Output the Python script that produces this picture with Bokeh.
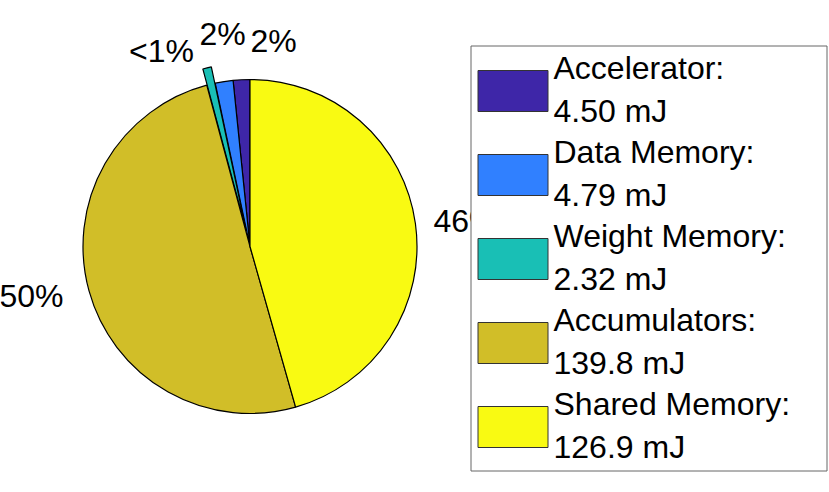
import math
from bokeh.plotting import figure
from bokeh.models import Range1d, ColumnDataSource
from bokeh.core.properties import value
from bokeh.embed import file_html
from bokeh.resources import INLINE

# ---- data ----
categories = ["Accelerator", "Data Memory", "Weight Memory", "Accumulators", "Shared Memory"]
energy_mj = [4.50, 4.79, 2.32, 139.8, 126.9]
energy_text = ["4.50 mJ", "4.79 mJ", "2.32 mJ", "139.8 mJ", "126.9 mJ"]
pct_labels = ["2%", "2%", "<1%", "50%", "46%"]
explode = [0, 0, 1, 0, 0]
colors = ["#3E26A8", "#3080FF", "#19BFB5", "#D1BE28", "#F9FA12"]

# ---- layout (pixel geometry of the reference, pie radius = 1 data unit) ----
W, H = 829, 492
R_PX = 167.0
CX, CY = 249.5, 246.0
OFF = 0.0
TB = -12.5  # baseline correction for rendered text


def X(px):
    return (px - CX) / R_PX


def Y(py):
    return (CY - py) / R_PX


x0 = X(OFF)
x1 = x0 + W / R_PX
y1 = Y(OFF)
y0 = y1 - H / R_PX

p = figure(width=W, height=H, output_backend="svg", toolbar_location=None,
           x_range=Range1d(x0, x1), y_range=Range1d(y0, y1), min_border=0)
p.axis.visible = False
p.grid.visible = False
p.outline_line_color = None
p.background_fill_color = "white"

# ---- pie slices ----
total = sum(energy_mj)
fracs = [v / total for v in energy_mj]
starts, ends, xs, ys = [], [], [], []
acc = 0.0
for f, e in zip(fracs, explode):
    s = math.pi / 2 + 2 * math.pi * acc
    t = s + 2 * math.pi * f
    mid = (s + t) / 2
    starts.append(s)
    ends.append(t)
    xs.append(0.1 * e * math.cos(mid))
    ys.append(0.1 * e * math.sin(mid))
    acc += f

src = ColumnDataSource(dict(x=xs, y=ys, s=starts, e=ends, c=colors))
p.wedge(x="x", y="y", radius=1.0, start_angle="s", end_angle="e",
        fill_color="c", line_color="black", line_width=1.2, source=src)

# ---- percentage labels (positions tuned as in the reference) ----
label_px = [(273, 53), (222, 46), (161, 63), (31, 308), (465, 233)]
p.text(x=[X(a) for a, b in label_px], y=[Y(b + TB) for a, b in label_px], text=pct_labels,
       text_font=value("Liberation Sans"), text_font_size="32px",
       text_align="center", text_baseline="alphabetic", text_color="black")

# ---- legend box ----
LB_L, LB_R, LB_T, LB_B = 470.5, 826.5, 45.5, 470.5
p.quad(left=[X(LB_L)], right=[X(LB_R)], top=[Y(LB_T)], bottom=[Y(LB_B)],
       fill_color="white", line_color="#666666", line_width=1)

sw_top = [70 + 84 * i for i in range(len(categories))]
p.quad(left=[X(477.5)] * len(categories), right=[X(547.5)] * len(categories),
       top=[Y(t) for t in sw_top], bottom=[Y(t + 41) for t in sw_top],
       fill_color=colors, line_color="#333333", line_width=1)

line1 = [c + ":" for c in categories]
p.text(x=[X(553)] * len(categories), y=[Y(t + 10 + TB) for t in sw_top], text=line1,
       text_font=value("Liberation Sans"), text_font_size="32px",
       text_align="left", text_baseline="alphabetic", text_color="black")
p.text(x=[X(553)] * len(categories), y=[Y(t + 53 + TB) for t in sw_top], text=energy_text,
       text_font=value("Liberation Sans"), text_font_size="32px",
       text_align="left", text_baseline="alphabetic", text_color="black")

open("out.html", "w").write(file_html(p, INLINE))
